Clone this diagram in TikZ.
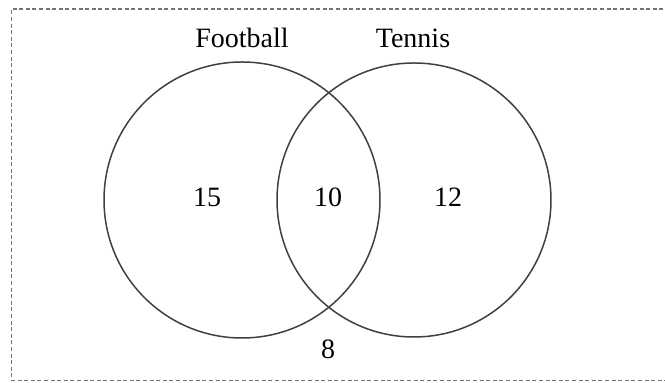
\documentclass[tikz,border=0pt]{standalone}
\usepackage{fontspec}
\setmainfont{Liberation Serif}
\usepackage{tikz}
\usetikzlibrary{positioning}
\tikzset{
	setline/.style={line width=.75pt, draw=black!75},
	frameline/.style={line width=.6pt, draw=black!55, dash pattern=on 2pt off 1.3pt},
	setlabel/.style={inner sep=0pt, font=\fontsize{14}{16}\selectfont},
}
\begin{document}
\begin{tikzpicture}[x=.5pt, y=-.5pt]
	\useasboundingbox (0,0) rectangle (665,383);
	\draw[frameline] (670,9) -- (11.5,9) -- (11.5,380.5) -- (670,380.5);
	\draw[setline] (242,200) circle (69pt);
	\draw[setline] (414,200) circle (68.5pt);
	\node[setlabel] (football) at (242,38) {Football};
	\node[setlabel] (tennis) at (413,38) {Tennis};
	\node[setlabel] (onlyf) at (207,197) {15};
	\node[setlabel] (both) at (328,197) {10};
	\node[setlabel] (onlyt) at (448,197) {12};
	\node[setlabel] (neither) at (328,349) {8};
\end{tikzpicture}
\end{document}
